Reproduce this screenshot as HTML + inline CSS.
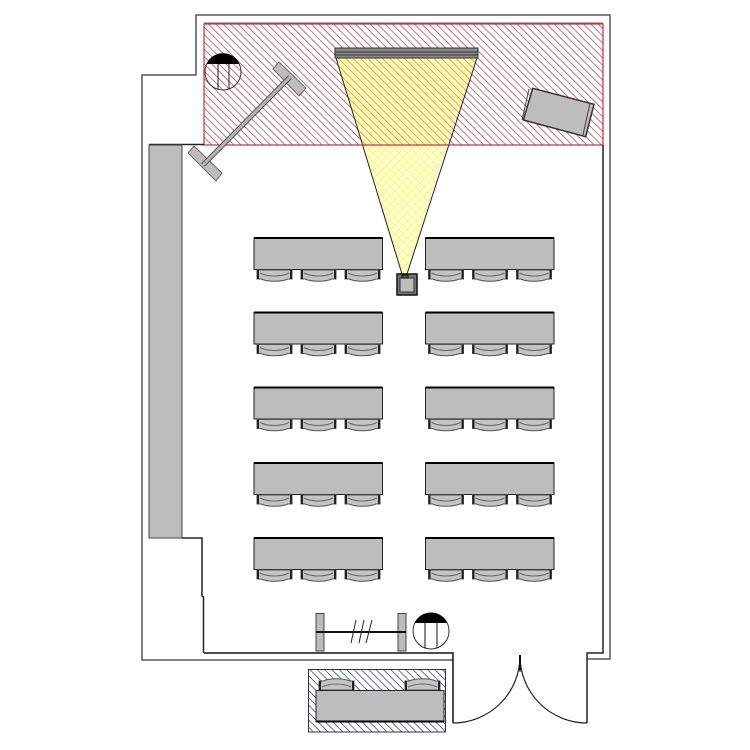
<!DOCTYPE html>
<html><head><meta charset="utf-8"><style>html,body{margin:0;padding:0;background:#fff}svg{display:block}</style></head>
<body>
<svg width="750" height="750" viewBox="0 0 750 750" xmlns="http://www.w3.org/2000/svg">
<defs>
<pattern id="red" width="5.2" height="5.2" patternUnits="userSpaceOnUse" patternTransform="rotate(-45)"><line x1="0" y1="0" x2="0" y2="5.2" stroke="#a05058" stroke-width="1.500"/></pattern>
<pattern id="blue" width="5.2" height="5.2" patternUnits="userSpaceOnUse" patternTransform="rotate(-45)"><line x1="0" y1="0" x2="0" y2="5.2" stroke="#4a4f80" stroke-width="1.600"/></pattern>
<pattern id="yel" width="6" height="6" patternUnits="userSpaceOnUse" patternTransform="rotate(45)"><path d="M0 0V6M0 0H6" stroke="#eee48e" stroke-width="1" fill="none"/></pattern>
<g id="chair">
<path d="M1 0V9H5C12 12 25 12 32 9H36V0Z" fill="#c4c4c4" stroke="#555" stroke-width="1"/>
<path d="M2 0V9M35 0V9" stroke="#222" stroke-width="2"/>
<path d="M4 3C12 7 25 7 33 3" fill="none" stroke="#666" stroke-width="1"/>
</g>
<g id="table">
<rect x="0" y="0" width="128.500" height="31.500" fill="#bdbdbd" stroke="#222" stroke-width="1"/>
<path d="M0 0H128.500" stroke="#000" stroke-width="2"/>
<use href="#chair" x="2" y="32"/><use href="#chair" x="46" y="32"/><use href="#chair" x="90" y="32"/>
</g>
</defs>

<!-- red hatched zone -->
<rect x="204" y="24" width="399" height="121" fill="#fff"/>
<rect x="204" y="24" width="399" height="121" fill="url(#red)"/>

<!-- projection cone -->
<polygon points="336,58 477,58 447,145 362,145" fill="#ffee55" fill-opacity=".45"/>
<polygon points="362,145 447,145 407,274 402,274" fill="#ffffc4"/>
<polygon points="362,145 447,145 407,274 402,274" fill="url(#yel)"/>
<path d="M336 58L402 274M477 58L407 274" stroke="#222" stroke-width="1" fill="none"/>

<rect x="204" y="24" width="399" height="121" fill="none" stroke="#c8303a" stroke-width="1.200"/>
<path d="M204 23H603" stroke="#8a5a5a" stroke-width="1"/>

<!-- walls -->
<g fill="none" stroke="#333" stroke-width="1.500">
<path d="M453 660H142V75H196V15H610V659H587" stroke="#555"/>
<path d="M204 653H453V723" stroke="#111"/>
<path d="M587 723V653H603V145" stroke="#222"/>
<path d="M149 144.500H204" stroke="#222"/>
<path d="M182 538H202V596L203.500 597V653" stroke="#222"/>
</g>

<!-- counter -->
<rect x="149" y="145" width="33" height="393" fill="#bdbdbd" stroke="#444" stroke-width="1"/>

<!-- screen -->
<rect x="335" y="48" width="143" height="10" fill="#8a8a8a" stroke="#333" stroke-width="1"/>
<path d="M335 52H478M335 55H478" stroke="#333" stroke-width="1"/>

<!-- cabinet top right -->
<polygon points="532.700,88.300 594,104.300 585.700,136.700 523.300,120" fill="#bdbdbd" stroke="#333" stroke-width="1.500"/>
<path d="M529 89L522 120M590 103L583 135" stroke="#444" stroke-width="1" fill="none"/>

<!-- diagonal T shape -->
<polygon points="279,62 306,88 299,96 273,69" fill="#bdbdbd" stroke="#666" stroke-width="1"/>
<polygon points="194,146 222,173 216,181 188,153" fill="#bdbdbd" stroke="#666" stroke-width="1"/>
<line x1="290" y1="77" x2="203" y2="165" stroke="#555" stroke-width="5"/>
<line x1="290" y1="77" x2="203" y2="165" stroke="#b5b5b5" stroke-width="3"/>

<!-- circles -->
<circle cx="223" cy="72" r="18" fill="none" stroke="#333" stroke-width="1"/>
<path d="M206.500 64A18 18 0 0 1 239.500 64Z" fill="#000"/>
<path d="M218 64V89.500M229 64V89" stroke="#222" stroke-width="1"/>
<circle cx="431" cy="631" r="18" fill="#fff" stroke="#333" stroke-width="1"/>
<path d="M414.700 623A18 18 0 0 1 447.300 623Z" fill="#000"/>
<path d="M425 623V648.500M437 623V648.500" stroke="#111" stroke-width="1"/>

<!-- tables -->
<use href="#table" x="254" y="238"/>
<use href="#table" x="425.500" y="238"/>
<use href="#table" x="254" y="312.500"/>
<use href="#table" x="425.500" y="312.500"/>
<use href="#table" x="254" y="387.500"/>
<use href="#table" x="425.500" y="387.500"/>
<use href="#table" x="254" y="463"/>
<use href="#table" x="425.500" y="463"/>
<use href="#table" x="254" y="538"/>
<use href="#table" x="425.500" y="538"/>

<!-- projector -->
<rect x="397" y="274" width="20" height="21" fill="#777" stroke="#111" stroke-width="1.500"/>
<rect x="400" y="278" width="14" height="14" fill="#bdbdbd" stroke="#333" stroke-width="1"/>
<rect x="402" y="275" width="6" height="3" fill="#555" stroke="#111" stroke-width="1"/>

<!-- bottom T -->
<rect x="316" y="613.500" width="8" height="37.500" fill="#bdbdbd" stroke="#444" stroke-width="1"/>
<rect x="398" y="613.500" width="8" height="37.500" fill="#bdbdbd" stroke="#444" stroke-width="1"/>
<path d="M316 632H406" stroke="#111" stroke-width="2"/>
<path d="M356 620L351 643M364 620L359 643M372 620L366 643" stroke="#222" stroke-width="1"/>

<!-- doors -->
<path d="M453 723A67 67 0 0 0 520 656V672M587 723A67 67 0 0 1 520 656" fill="none" stroke="#222" stroke-width="1.200"/>
<path d="M520 655V670" stroke="#111" stroke-width="2"/>

<!-- bottom desk -->
<rect x="308.500" y="669.500" width="137" height="62.500" fill="#fff"/>
<rect x="308.500" y="669.500" width="137" height="62.500" fill="url(#blue)" stroke="#333" stroke-width="1"/>
<g transform="translate(318,690) scale(1,-1)"><use href="#chair" x="0" y="0"/></g>
<g transform="translate(404,690) scale(1,-1)"><use href="#chair" x="0" y="0"/></g>
<rect x="316" y="690.500" width="128" height="31" fill="#bdbdbd" stroke="#222" stroke-width="1"/>
<path d="M316 721.500H444" stroke="#000" stroke-width="2"/>
</svg>
</body></html>
